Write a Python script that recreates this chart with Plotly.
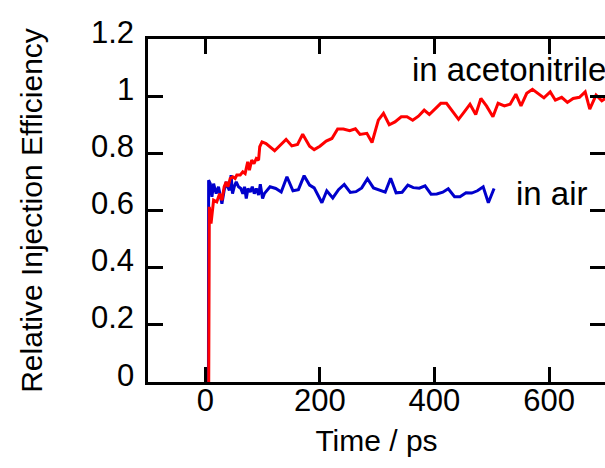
import plotly.graph_objects as go

# ---- data ----
acn_time = [6, 7, 10, 12, 14.5, 20, 25, 29, 33, 36.5, 39.5, 43.5, 48, 52, 55, 61, 65.5, 69.5, 74, 77,
            81, 85, 89, 93, 95, 99, 106, 121, 131, 141, 151, 161, 170, 182, 190, 200, 211, 221, 231, 241,
            252, 262, 270, 282, 291, 302, 311, 321, 331, 342, 352, 362, 372, 382, 391, 401, 411, 421, 432, 442,
            452, 462, 472, 481, 491, 502, 511, 522, 532, 542, 551, 561, 571, 581, 591, 602, 611, 622, 632, 642,
            653, 663, 671, 682, 692, 698, 710]
acn_eff = [0, 0.613, 0.554, 0.601, 0.636, 0.630, 0.659, 0.636, 0.683, 0.700, 0.683, 0.712, 0.718, 0.712, 0.724,
           0.724, 0.735, 0.729, 0.770, 0.741, 0.776, 0.764, 0.782, 0.776, 0.823, 0.840, 0.834, 0.809, 0.829, 0.849,
           0.826, 0.831, 0.867, 0.825, 0.813, 0.825, 0.843, 0.852, 0.885, 0.885, 0.879, 0.886, 0.866, 0.870, 0.838,
           0.916, 0.940, 0.900, 0.910, 0.928, 0.928, 0.916, 0.930, 0.951, 0.936, 0.957, 0.975, 0.975, 0.945, 0.919,
           0.945, 0.972, 0.936, 0.992, 0.965, 0.928, 0.975, 0.966, 0.972, 1.007, 0.966, 1.010, 1.024, 1.010, 0.994,
           1.015, 0.986, 0.996, 0.978, 0.992, 0.996, 1.015, 0.955, 1.004, 0.984, 0.992, 0.99]

air_time = [5.5, 5.8, 8.7, 11.6, 14.5, 19, 23, 29, 33, 36.5, 39, 42, 45, 47.5, 50.5, 54, 58, 62, 65.5, 68.5,
            71.5, 74.5, 78.5, 82, 85.5, 89, 93, 96, 100, 103, 113, 123, 132.5, 142.5, 153, 162.5, 172.5, 182, 190, 203.5,
            212, 222.5, 232.5, 242.5, 253, 263, 273, 283, 293.5, 304, 314, 323.5, 333, 343.5, 353.5, 363, 373.5, 383.5, 394, 404,
            414.5, 424, 435, 444.5, 455, 465, 475, 485, 494, 504]
air_eff = [0, 0.706, 0.694, 0.648, 0.694, 0.659, 0.683, 0.624, 0.671, 0.700, 0.683, 0.671, 0.724, 0.659, 0.683,
           0.700, 0.683, 0.677, 0.659, 0.683, 0.642, 0.677, 0.665, 0.683, 0.659, 0.677, 0.654, 0.692, 0.642, 0.659,
           0.683, 0.677, 0.665, 0.718, 0.669, 0.673, 0.722, 0.689, 0.679, 0.627, 0.669, 0.644, 0.673, 0.691, 0.663,
           0.666, 0.679, 0.711, 0.679, 0.671, 0.664, 0.713, 0.662, 0.664, 0.689, 0.680, 0.678, 0.686, 0.657, 0.658,
           0.664, 0.676, 0.648, 0.648, 0.662, 0.661, 0.669, 0.683, 0.627, 0.677]

x_ticks = [0, 200, 400, 600]
y_ticks = [0, 0.2, 0.4, 0.6, 0.8, 1.0, 1.2]
y_ticklabels = ["0", "0.2", "0.4", "0.6", "0.8", "1", "1.2"]
series_labels = ["in air", "in acetonitrile"]
label_pos = [(538, 0.66), (357, 1.095)]

X_RANGE = [-100, 697.6]
Y_RANGE = [0, 1.2]
FONT = "Liberation Sans, Arial, Helvetica, sans-serif"

fig = go.Figure()
fig.add_trace(go.Scatter(x=air_time, y=air_eff, mode="lines",
                         line=dict(color="#0000CC", width=3), showlegend=False))
fig.add_trace(go.Scatter(x=acn_time, y=acn_eff, mode="lines",
                         line=dict(color="#FF0000", width=3), showlegend=False))

for (lx, ly), txt in zip(label_pos, series_labels):
    fig.add_annotation(x=lx, y=ly, xref="x", yref="y", text=txt, showarrow=False,
                       xanchor="left", yanchor="middle",
                       font=dict(family=FONT, size=33, color="black"))

# y tick labels: in the reference they sit a few pixels above their ticks
for v, t in zip(y_ticks, y_ticklabels):
    fig.add_annotation(x=0, y=v, xref="paper", yref="y", text=t, showarrow=False,
                       xanchor="right", yanchor="middle", xshift=-12, yshift=7,
                       font=dict(family=FONT, size=31, color="black"))

common_tick = dict(ticks="inside", ticklen=15, tickwidth=3, tickcolor="black",
                   showgrid=False, zeroline=False)

fig.update_layout(
    width=605, height=468,
    margin=dict(l=148, r=0, t=39, b=86),
    paper_bgcolor="white", plot_bgcolor="white",
    font=dict(family=FONT, size=31, color="black"),
    xaxis=dict(range=X_RANGE, tickvals=x_ticks, showline=True, linewidth=3, linecolor="black",
               title=dict(text="Time / ps", font=dict(size=30), standoff=13),
               tickfont=dict(size=31), ticklabelstandoff=-11, **common_tick),
    yaxis=dict(range=Y_RANGE, tickvals=y_ticks, showline=True, linewidth=3,
               linecolor="black", showticklabels=False,
               title=dict(text="Relative Injection Efficiency", font=dict(size=30), standoff=94),
               **common_tick),
    xaxis2=dict(range=X_RANGE, tickvals=x_ticks, overlaying="x", side="top", showline=True,
                linewidth=3, linecolor="black", showticklabels=False, **common_tick),
    yaxis2=dict(range=Y_RANGE, tickvals=y_ticks, overlaying="y", side="right", showline=False,
                showticklabels=False, **common_tick),
)
# invisible helper trace to activate the mirrored tick axes
fig.add_trace(go.Scatter(x=[None], y=[None], xaxis="x2", yaxis="y2", showlegend=False, hoverinfo="skip"))

fig.write_html(
    "out.html",
    config={"displayModeBar": False},
    post_script="document.body.style.margin='0';document.body.style.overflow='hidden';",
)
